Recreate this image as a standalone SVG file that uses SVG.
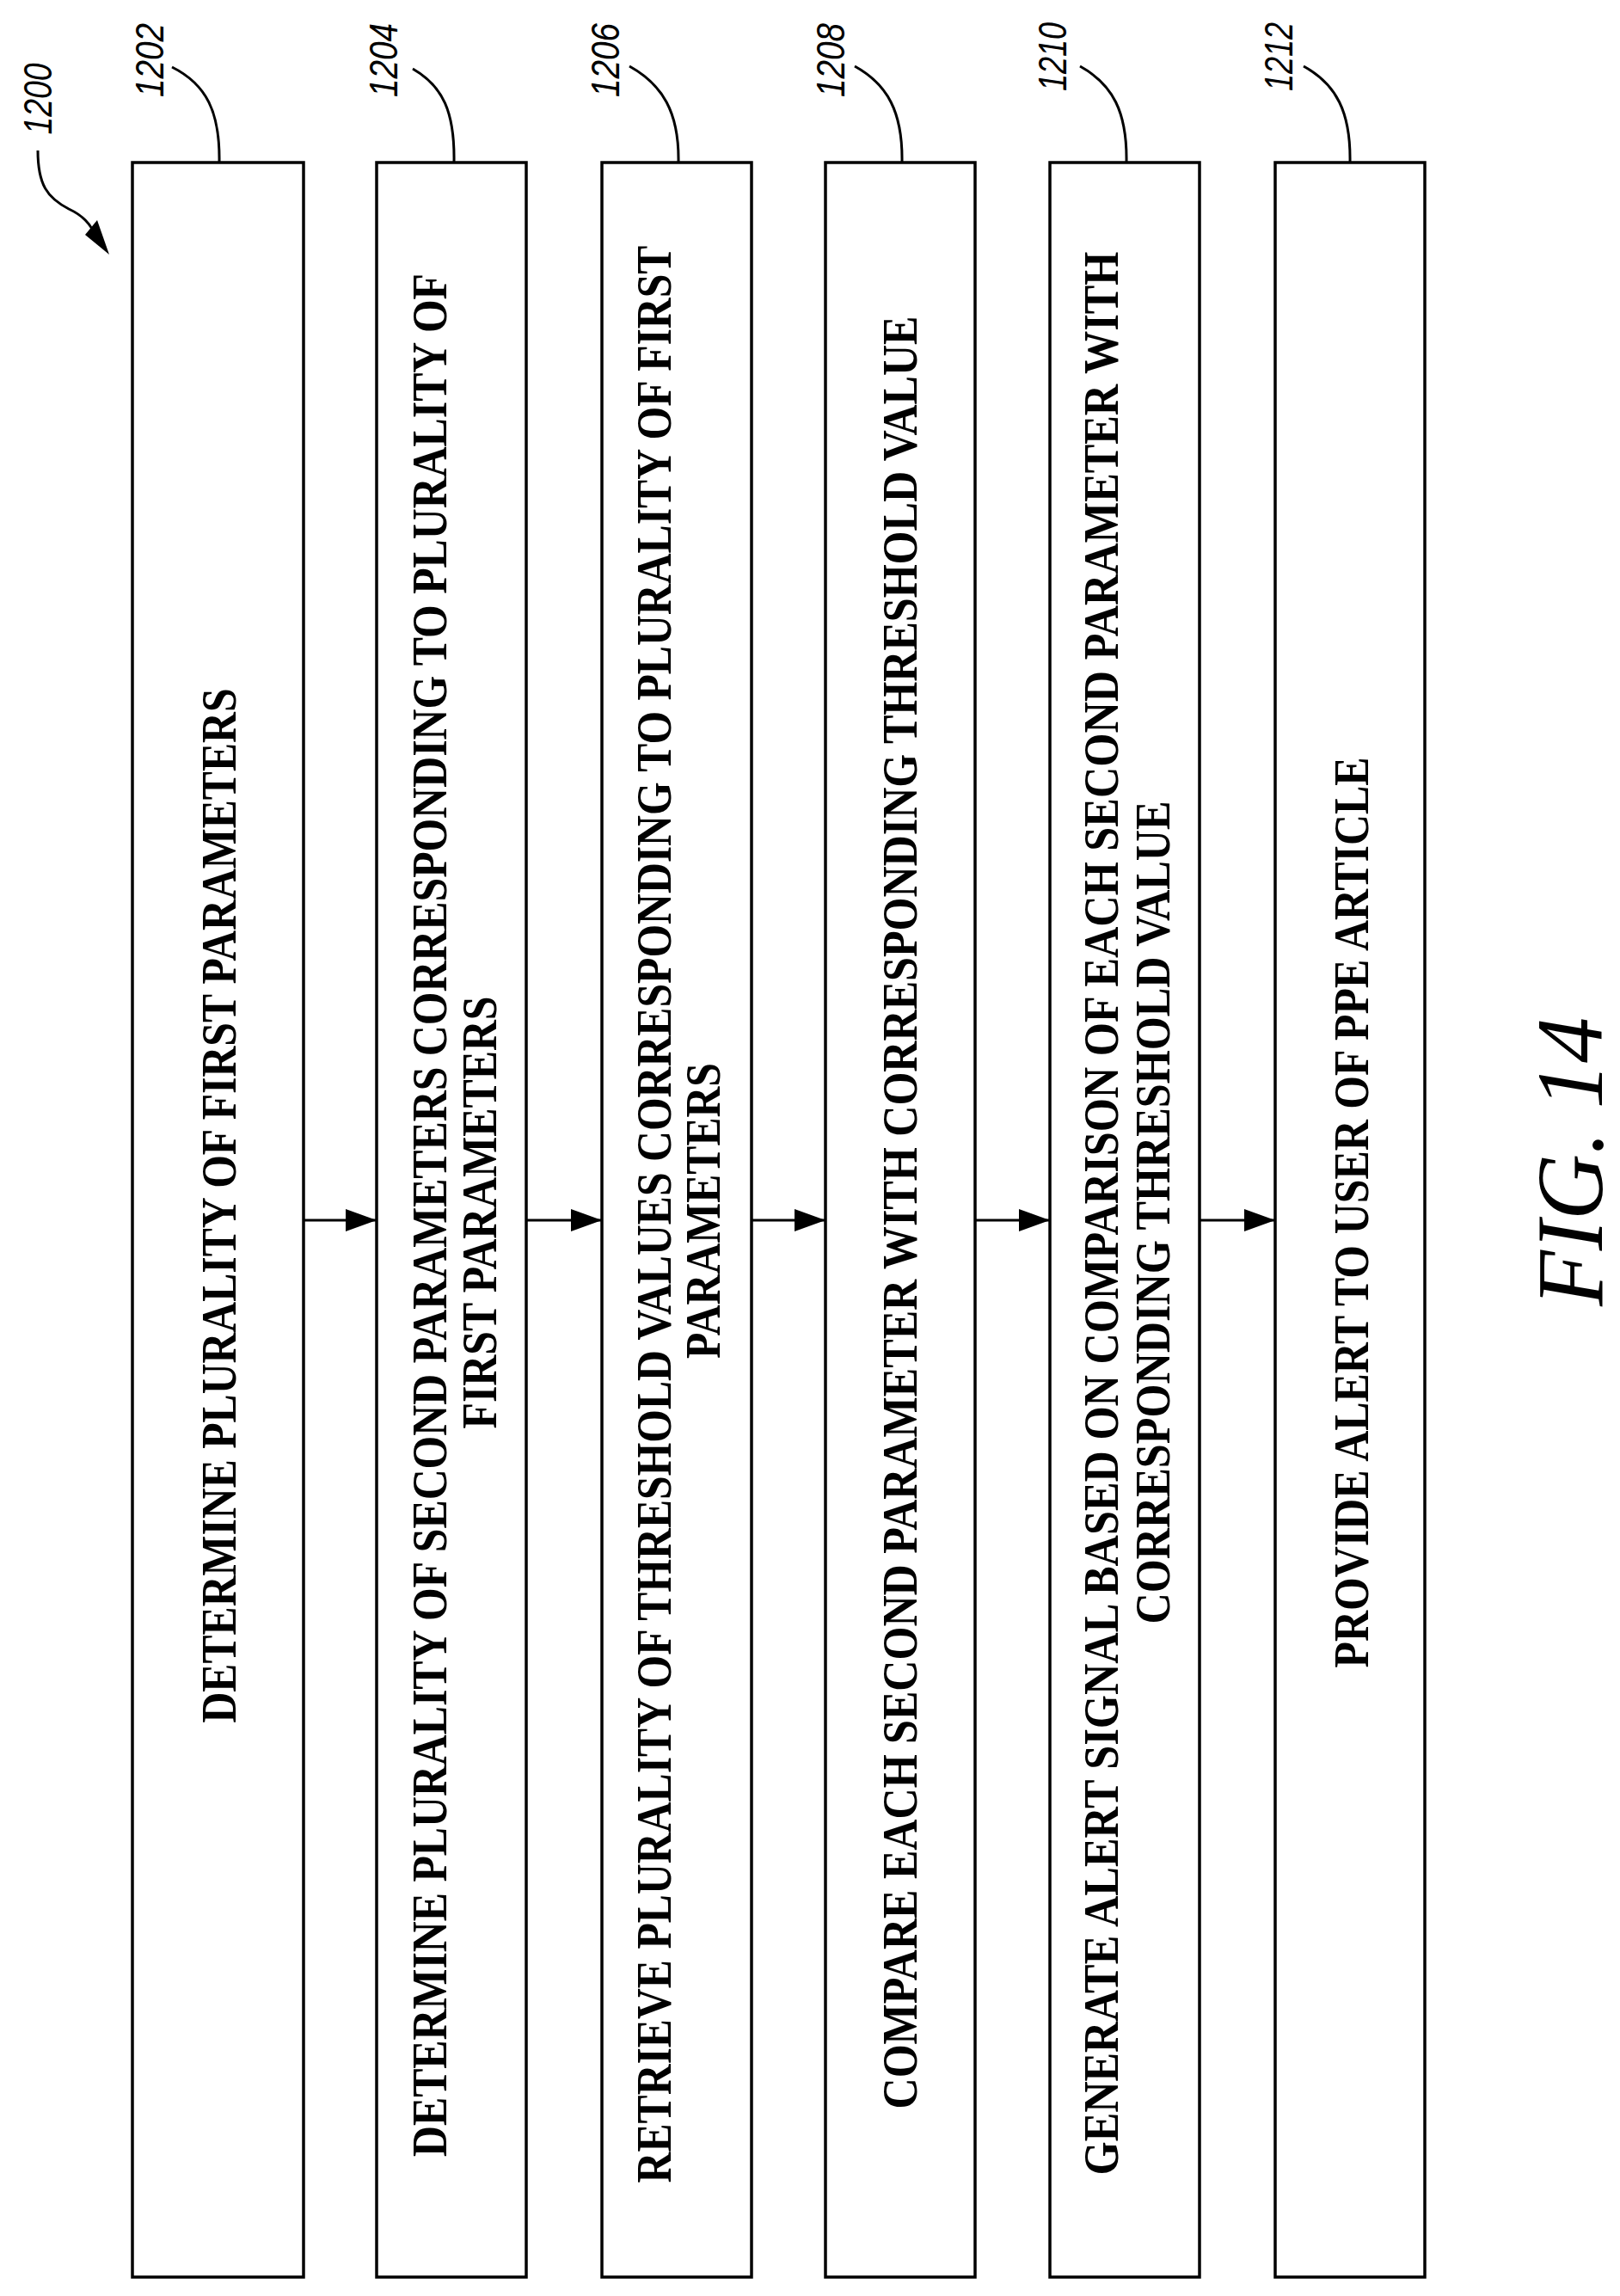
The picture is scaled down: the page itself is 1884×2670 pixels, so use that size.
<svg xmlns="http://www.w3.org/2000/svg" width="1884" height="2670" viewBox="0 0 1884 2670">
<style>
.box{fill:#fff;stroke:#000;stroke-width:3.5}
.t{font-family:"Liberation Serif","Times New Roman",serif;font-weight:bold;font-size:56px;fill:#000;text-anchor:middle}
.ref{font-family:"Liberation Sans",Arial,sans-serif;font-style:italic;font-size:46px;fill:#000;text-anchor:middle}
.fig{font-family:"Liberation Serif","Times New Roman",serif;font-style:italic;font-size:110px;fill:#000;text-anchor:middle}
.ld{fill:none;stroke:#000;stroke-width:3}
.ar{fill:none;stroke:#000;stroke-width:3;marker-end:url(#ah)}
</style>
<defs>
<marker id="ah" markerUnits="userSpaceOnUse" markerWidth="38" markerHeight="28" refX="36" refY="13" orient="auto">
<path d="M0,0 L36,13 L0,26 Z" fill="#000"/>
</marker>
</defs>
<rect width="1884" height="2670" fill="#fff"/>
<g id="fig-ref">
<text class="ref" transform="translate(60,115) rotate(-90)" textLength="83" lengthAdjust="spacingAndGlyphs">1200</text>
<path class="ld" d="M44,175 C44,215 55,230 80,243 C95,250 103,258 108,268"/>
<polygon points="127,296 99,273 113,256" fill="#000"/>
</g>
<g id="n1202">
<rect class="box" x="154" y="189" width="199" height="2459"/>
<text class="ref" transform="translate(190,70) rotate(-90)" textLength="86" lengthAdjust="spacingAndGlyphs">1202</text>
<path class="ld" d="M200,78 C240,98 256,130 255,189"/>
<text class="t" transform="translate(274,1402) rotate(-90)" textLength="1203" lengthAdjust="spacingAndGlyphs">DETERMINE PLURALITY OF FIRST PARAMETERS</text>
</g>
<g id="n1204">
<rect class="box" x="438" y="189" width="174" height="2459"/>
<text class="ref" transform="translate(462,70) rotate(-90)" textLength="86" lengthAdjust="spacingAndGlyphs">1204</text>
<path class="ld" d="M480,80 C515,100 529,130 528,189"/>
<text class="t" transform="translate(519,1413) rotate(-90)" textLength="2190" lengthAdjust="spacingAndGlyphs">DETERMINE PLURALITY OF SECOND PARAMETERS CORRESPONDING TO PLURALITY OF</text>
<text class="t" transform="translate(577,1410) rotate(-90)" textLength="503" lengthAdjust="spacingAndGlyphs">FIRST PARAMETERS</text>
</g>
<g id="n1206">
<rect class="box" x="700" y="189" width="174" height="2459"/>
<text class="ref" transform="translate(720,70) rotate(-90)" textLength="86" lengthAdjust="spacingAndGlyphs">1206</text>
<path class="ld" d="M732,77 C770,98 790,130 789,189"/>
<text class="t" transform="translate(780,1412) rotate(-90)" textLength="2253" lengthAdjust="spacingAndGlyphs">RETRIEVE PLURALITY OF THRESHOLD VALUES CORRESPONDING TO PLURALITY OF FIRST</text>
<text class="t" transform="translate(837,1408) rotate(-90)" textLength="344" lengthAdjust="spacingAndGlyphs">PARAMETERS</text>
</g>
<g id="n1208">
<rect class="box" x="960" y="189" width="174" height="2459"/>
<text class="ref" transform="translate(982,70) rotate(-90)" textLength="86" lengthAdjust="spacingAndGlyphs">1208</text>
<path class="ld" d="M994,77 C1032,98 1050,130 1049,189"/>
<text class="t" transform="translate(1066,1410) rotate(-90)" textLength="2085" lengthAdjust="spacingAndGlyphs">COMPARE EACH SECOND PARAMETER WITH CORRESPONDING THRESHOLD VALUE</text>
</g>
<g id="n1210">
<rect class="box" x="1221" y="189" width="174" height="2459"/>
<text class="ref" transform="translate(1240,66) rotate(-90)" textLength="80" lengthAdjust="spacingAndGlyphs">1210</text>
<path class="ld" d="M1256,77 C1294,98 1311,130 1310,189"/>
<text class="t" transform="translate(1300,1411) rotate(-90)" textLength="2237" lengthAdjust="spacingAndGlyphs">GENERATE ALERT SIGNAL BASED ON COMPARISON OF EACH SECOND PARAMETER WITH</text>
<text class="t" transform="translate(1360,1410) rotate(-90)" textLength="957" lengthAdjust="spacingAndGlyphs">CORRESPONDING THRESHOLD VALUE</text>
</g>
<g id="n1212">
<rect class="box" x="1483" y="189" width="174" height="2459"/>
<text class="ref" transform="translate(1503,66) rotate(-90)" textLength="80" lengthAdjust="spacingAndGlyphs">1212</text>
<path class="ld" d="M1516,77 C1554,98 1571,130 1570,189"/>
<text class="t" transform="translate(1591,1410) rotate(-90)" textLength="1059" lengthAdjust="spacingAndGlyphs">PROVIDE ALERT TO USER OF PPE ARTICLE</text>
</g>
<g id="connectors">
<line class="ar" x1="353" y1="1419" x2="438" y2="1419"/>
<line class="ar" x1="612" y1="1419" x2="700" y2="1419"/>
<line class="ar" x1="874" y1="1419" x2="960" y2="1419"/>
<line class="ar" x1="1134" y1="1419" x2="1221" y2="1419"/>
<line class="ar" x1="1395" y1="1419" x2="1483" y2="1419"/>
</g>
<text class="fig" transform="translate(1863,1351) rotate(-90)" textLength="336" lengthAdjust="spacingAndGlyphs">FIG. 14</text>
</svg>
